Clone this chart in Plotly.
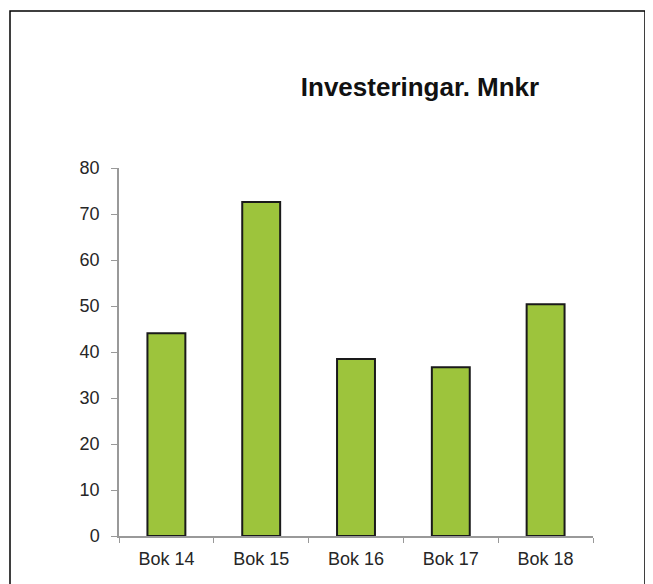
import plotly.graph_objects as go

categories = ["Bok 14", "Bok 15", "Bok 16", "Bok 17", "Bok 18"]
investeringar = [44.1, 72.6, 38.5, 36.7, 50.4]
y_ticks = [0, 10, 20, 30, 40, 50, 60, 70, 80]

# the page has an 8px body margin, so the figure is drawn 8px smaller
W, H = 645, 576
left, right, top, bottom = 111, 60, 160, 48
plot_w = W - left - right
plot_h = H - top - bottom

fig = go.Figure()

fig.add_trace(
    go.Bar(
        x=categories,
        y=investeringar,
        width=0.4,
        marker=dict(color="#9DC43C", line=dict(color="#1a1a1a", width=2)),
        hoverinfo="x+y",
    )
)

axis_font = dict(family="Liberation Sans, Arial, sans-serif", size=18, color="#262626")

fig.update_layout(
    width=W,
    height=H,
    margin=dict(l=left, r=right, t=top, b=bottom),
    paper_bgcolor="white",
    plot_bgcolor="white",
    showlegend=False,
    title=dict(
        text="<b>Investeringar. Mnkr</b>",
        x=412 / W,
        xanchor="center",
        y=1 - 79 / H,
        yanchor="middle",
        font=dict(family="Liberation Sans, Arial, sans-serif", size=26, color="#111111"),
    ),
    xaxis=dict(
        showline=True,
        linecolor="#999999",
        linewidth=1.5,
        ticks="outside",
        ticklen=5,
        tickcolor="#999999",
        tickson="boundaries",
        tickfont=axis_font,
        ticklabelstandoff=6,
        showgrid=False,
        fixedrange=True,
    ),
    yaxis=dict(
        range=[0, 80],
        tickvals=y_ticks,
        showline=True,
        linecolor="#999999",
        linewidth=1.5,
        ticks="outside",
        ticklen=6,
        tickcolor="#999999",
        tickfont=axis_font,
        ticklabelstandoff=8,
        showgrid=False,
        zeroline=False,
        fixedrange=True,
    ),
    shapes=[
        dict(
            type="rect",
            xref="paper",
            yref="paper",
            x0=(2 - left) / plot_w,
            x1=(637 - left) / plot_w,
            y0=-(bottom + 20) / plot_h,
            y1=(H - bottom - 3) / plot_h,
            line=dict(color="black", width=1.5),
            layer="below",
        )
    ],
)

fig.write_html("out.html")
